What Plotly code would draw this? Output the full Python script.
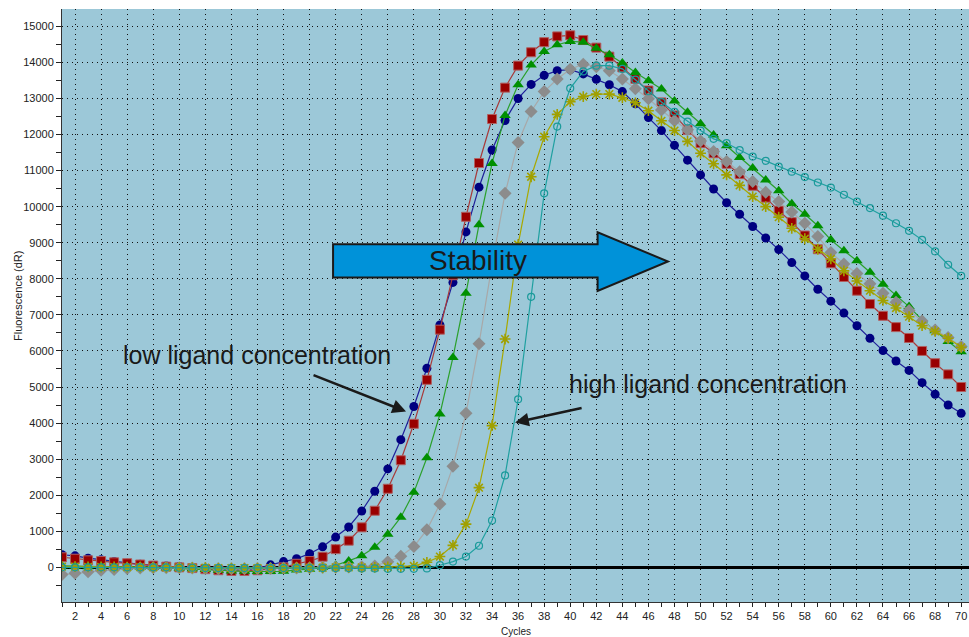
import plotly.graph_objects as go

cycles = list(range(1, 71))

s_navy = [350, 320, 255, 210, 165, 115, 85, 55, 40, 25, -10, -40, -70, -70, -70, -30, 70, 160, 240, 380,
          570, 840, 1120, 1560, 2110, 2730, 3540, 4460, 5520, 6720, 7900, 9300, 10540, 11570, 12390, 13000, 13390, 13640, 13770, 13800,
          13680, 13530, 13380, 13190, 12850, 12470, 12110, 11700, 11290, 10880, 10490, 10110, 9790, 9450, 9130, 8810, 8450, 8080, 7710, 7380,
          7050, 6700, 6350, 6010, 5720, 5460, 5120, 4800, 4500, 4270]
s_red = [280, 240, 195, 175, 140, 115, 80, 50, 20, 0, -20, -50, -80, -100, -100, -80, -50, 0, 100, 175,
         295, 505, 740, 1110, 1570, 2180, 2970, 3980, 5200, 6590, 8100, 9720, 11210, 12430, 13300, 13910, 14280, 14560, 14720, 14750,
         14620, 14410, 14160, 13860, 13540, 13220, 12890, 12530, 12130, 11760, 11480, 11190, 10900, 10580, 10250, 9890, 9570, 9200, 8820, 8430,
         8050, 7670, 7300, 6975, 6660, 6360, 6000, 5660, 5350, 5000]
s_green = [40, 30, 20, 15, 10, 5, 0, 0, -10, -20, -40, -60, -80, -100, -110, -115, -115, -110, -70, -50,
           0, 60, 180, 320, 560, 920, 1390, 2080, 3040, 4250, 5820, 7600, 9500, 11200, 12530, 13380, 13930, 14300, 14490, 14580,
           14560, 14390, 14210, 13980, 13720, 13490, 13260, 12930, 12620, 12300, 11990, 11690, 11360, 11070, 10740, 10440, 10080, 9790, 9470, 9080,
           8780, 8500, 8180, 7850, 7540, 7230, 6860, 6560, 6260, 5980]
s_gray = [-200, -160, -120, -80, -60, -30, -20, -10, -10, -10, -20, -30, -40, -40, -40, -30, -30, -20, -20, -10,
          0, 0, 10, 20, 40, 155, 310, 580, 1040, 1760, 2800, 4270, 6200, 8400, 10370, 11780, 12640, 13190, 13540, 13810,
          13950, 13880, 13770, 13540, 13270, 12990, 12680, 12380, 12130, 11820, 11530, 11250, 10970, 10700, 10400, 10140, 9850, 9540, 9170, 8730,
          8410, 8150, 7860, 7600, 7350, 7120, 6830, 6580, 6370, 6120]
s_olive = [20, 20, 15, 10, 10, 5, 5, 0, 0, 0, -10, -10, -20, -20, -20, -20, -20, -20, -10, -10,
           -10, 0, 0, 0, 0, 10, 20, 40, 140, 300, 610, 1200, 2210, 3930, 6330, 8950, 10830, 11940, 12560, 12910,
           13050, 13120, 13120, 13020, 12880, 12660, 12380, 12110, 11810, 11480, 11190, 10880, 10590, 10280, 10000, 9710, 9400, 9110, 8820, 8550,
           8220, 7940, 7670, 7400, 7190, 6950, 6700, 6540, 6350, 6100]
s_teal = [0, 0, 0, 0, 0, 0, 0, 0, 0, -10, -10, -20, -20, -20, -20, -20, -20, -20, -20, -20,
          -20, -20, -20, -30, -30, -40, -40, -40, -30, 60, 160, 300, 600, 1300, 2550, 4660, 7500, 10370, 12220, 13280,
          13750, 13910, 13910, 13820, 13520, 13200, 12900, 12630, 12360, 12110, 11880, 11760, 11570, 11390, 11270, 11110, 10970, 10820, 10670, 10530,
          10330, 10140, 9960, 9750, 9540, 9330, 9080, 8760, 8390, 8080]

series = [
    (s_navy, "#1f1f9a", dict(symbol="circle", size=9, color="#000080", line=dict(width=0))),
    (s_red, "#a83a3a", dict(symbol="square", size=9, color="#990000", line=dict(width=1, color="#b06060"))),
    (s_green, "#2aa02a", dict(symbol="triangle-up", size=10, color="#009000", line=dict(width=0))),
    (s_gray, "#a8a8a8", dict(symbol="diamond", size=10, color="#8c8c8c", line=dict(width=0))),
    (s_olive, "#a8a800", dict(symbol="asterisk-open", size=9, color="#a0a000", line=dict(width=1.6, color="#a0a000"))),
    (s_teal, "#1fa0a0", dict(symbol="circle-open", size=7, color="#1a9a9a", line=dict(width=1.2, color="#1a9a9a"))),
]

fig = go.Figure()
for vals, lc, mk in series:
    fig.add_trace(go.Scatter(x=cycles, y=vals, mode="lines+markers",
                             line=dict(color=lc, width=1.2), marker=mk,
                             showlegend=False, hoverinfo="skip"))

font_family = "Liberation Sans, Arial, sans-serif"

fig.update_layout(
    width=969, height=637,
    margin=dict(l=62, r=0, t=9, b=35),
    paper_bgcolor="white",
    plot_bgcolor="#9CC8D8",
    font=dict(family=font_family, size=11, color="#222222"),
    showlegend=False,
)

fig.update_xaxes(
    range=[1, 70.6], tick0=0, dtick=2, showgrid=True,
    gridcolor="#111111", griddash="1px,4px", gridwidth=1,
    ticks="outside", ticklen=4, tickcolor="#222222",
    minor=dict(dtick=1, tick0=0, ticks="outside", ticklen=4, tickcolor="#222222", showgrid=False),
    showline=True, linecolor="#333333", linewidth=1,
    zeroline=False, tickfont=dict(size=11),
)
fig.update_yaxes(
    range=[-960, 15480], tick0=0, dtick=1000, tickformat="d",
    showgrid=True, gridcolor="#111111", griddash="1px,4px", gridwidth=1,
    ticks="outside", ticklen=5, tickcolor="#222222",
    minor=dict(dtick=500, tick0=0, ticks="outside", ticklen=5, tickcolor="#222222", showgrid=False),
    showline=True, linecolor="#333333", linewidth=1,
    zeroline=True, zerolinecolor="#000000", zerolinewidth=3,
    tickfont=dict(size=11),
)

# Stability arrow (data coordinates)
ax0, ax1, ax2 = 21.8, 42.1, 47.5
yb_top, yb_bot, yh_top, yh_bot, y_tip = 8960, 8035, 9290, 7665, 8480
fig.add_shape(
    type="path", xref="x", yref="y",
    path=(f"M {ax0},{yb_top} L {ax1},{yb_top} L {ax1},{yh_top} L {ax2},{y_tip} "
          f"L {ax1},{yh_bot} L {ax1},{yb_bot} L {ax0},{yb_bot} Z"),
    fillcolor="#0092D9", line=dict(color="#1a1a1a", width=2), layer="above",
)

annotations = [
    dict(x=32.9, y=8497, xref="x", yref="y", text="Stability", showarrow=False,
         font=dict(size=28, color="#1a1a1a"), xanchor="center", yanchor="middle"),
    dict(x=15.93, y=5900, xref="x", yref="y", text="low ligand concentration", showarrow=False,
         font=dict(size=25, color="#1a1a1a"), xanchor="center", yanchor="middle"),
    dict(x=50.6, y=5080, xref="x", yref="y", text="high ligand concentration", showarrow=False,
         font=dict(size=25, color="#1a1a1a"), xanchor="center", yanchor="middle"),
    dict(x=27.4, y=4320, xref="x", yref="y", text="", showarrow=True, ax=-94, ay=-37,
         arrowhead=2, arrowsize=1.1, arrowwidth=2.5, arrowcolor="#1a1a1a", standoff=0),
    dict(x=35.77, y=4014, xref="x", yref="y", text="", showarrow=True, ax=68, ay=-15,
         arrowhead=2, arrowsize=1.1, arrowwidth=2.5, arrowcolor="#1a1a1a", standoff=0),
    dict(x=-0.0485, y=0.516, xref="paper", yref="paper", text="Fluorescence (dR)", textangle=-90,
         showarrow=False, font=dict(size=11, color="#222222"), xanchor="center", yanchor="middle"),
    dict(x=0.5, y=-0.049, xref="paper", yref="paper", text="Cycles",
         showarrow=False, font=dict(size=10, color="#222222"), xanchor="center", yanchor="middle"),
]
fig.update_layout(annotations=annotations)

fig.write_html("out.html")
